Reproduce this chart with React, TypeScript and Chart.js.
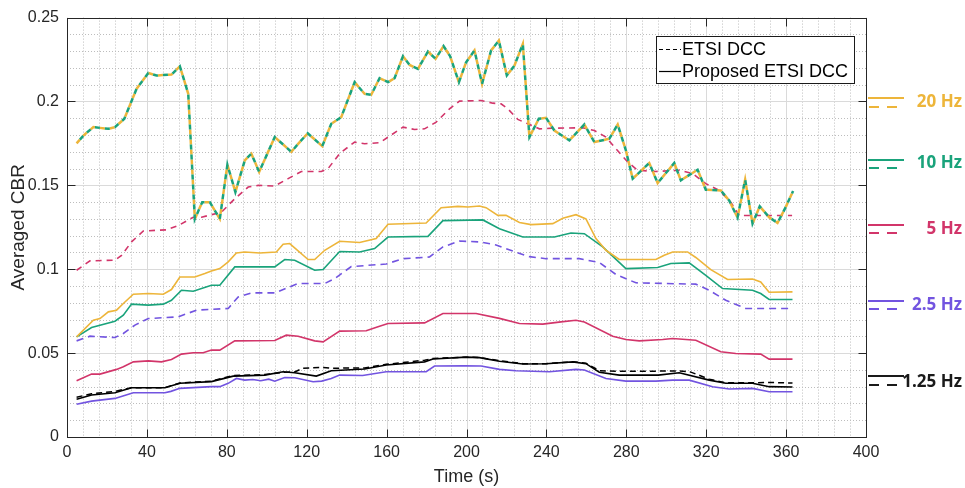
import React, { useEffect, useRef } from "react";
import { Chart, registerables } from "chart.js";

Chart.register(...registerables);

// ---------- axis ----------
const xTicks = [0, 40, 80, 120, 160, 200, 240, 280, 320, 360, 400];
const yTicks = [0, 0.05, 0.1, 0.15, 0.2, 0.25];
const xTitle = "Time (s)";
const yTitle = "Averaged CBR";
const legendLabels = ["ETSI DCC", "Proposed ETSI DCC"];
const freqLabels = ["20 Hz", "10 Hz", "5 Hz", "2.5 Hz", "1.25 Hz"];
const freqColors = ["#EDB53A", "#1AA37B", "#D2356A", "#7254E0", "#1a1a1a"];

// ---------- ETSI DCC at 20 Hz and 10 Hz (overlapping) ----------
const tEtsiHigh = [4.8, 8.5, 13.2, 20.7, 24, 28.7, 34.8, 40.7, 44.8, 52.3, 56.5, 60.7, 64, 67.7, 71.5, 76.5, 80.3, 84.3, 89, 92.3, 96.2, 104, 112.3, 116.5, 120.5, 127.8, 132.3, 137.3, 144, 149, 152.3, 156.5, 160.7, 164, 168.2, 171.5, 175.7, 180.7, 184.5, 188.5, 191.8, 196.2, 199.8, 204, 207.8, 212.3, 216.2, 220.2, 224, 228.2, 231.5, 236.2, 239.8, 244, 251.5, 259, 264, 271.5, 275.7, 279.8, 283.2, 291.5, 295.7, 304, 307.3, 315.7, 319.8, 327.3, 331.5, 335.7, 339.5, 343.2, 346.8, 351.5, 355.7, 359.8, 363.5];
const etsi20 = [0.175, 0.18, 0.1847, 0.1837, 0.1847, 0.1897, 0.2075, 0.217, 0.2155, 0.216, 0.221, 0.2046, 0.13, 0.14, 0.14, 0.13, 0.1623, 0.146, 0.1649, 0.1689, 0.158, 0.1788, 0.17, 0.1758, 0.181, 0.1734, 0.1867, 0.1907, 0.2115, 0.2045, 0.204, 0.2139, 0.2115, 0.2139, 0.227, 0.2218, 0.2194, 0.2298, 0.2254, 0.233, 0.227, 0.2115, 0.2234, 0.2304, 0.2105, 0.2304, 0.2363, 0.2155, 0.2214, 0.2343, 0.1788, 0.1897, 0.1903, 0.1827, 0.1768, 0.1863, 0.1758, 0.1778, 0.1863, 0.1708, 0.154, 0.1633, 0.1514, 0.1633, 0.153, 0.1593, 0.1474, 0.147, 0.141, 0.1308, 0.1534, 0.1272, 0.1375, 0.131, 0.1276, 0.137, 0.1466];
const etsi10 = [0.175, 0.18, 0.1847, 0.1837, 0.1847, 0.1897, 0.2075, 0.217, 0.2155, 0.216, 0.221, 0.2046, 0.13, 0.14, 0.14, 0.13, 0.1623, 0.146, 0.1649, 0.1689, 0.158, 0.1788, 0.17, 0.1758, 0.181, 0.1734, 0.1867, 0.1907, 0.2115, 0.2045, 0.204, 0.2139, 0.2115, 0.2139, 0.227, 0.2218, 0.2194, 0.2298, 0.2254, 0.233, 0.227, 0.2115, 0.2234, 0.2304, 0.2105, 0.2304, 0.2363, 0.2155, 0.2214, 0.2343, 0.1788, 0.1897, 0.1903, 0.1827, 0.1768, 0.1863, 0.1758, 0.1778, 0.1863, 0.1708, 0.154, 0.1633, 0.1514, 0.1633, 0.153, 0.1593, 0.1474, 0.147, 0.141, 0.1308, 0.1534, 0.1272, 0.1375, 0.131, 0.1276, 0.137, 0.1466];

// ---------- ETSI DCC 5 Hz ----------
const tEtsi5 = [4.8, 11.5, 24, 27.3, 32.3, 38.2, 49.8, 55.7, 63.2, 67.3, 77.3, 84, 90.7, 95.7, 104, 110.7, 117.3, 127.3, 130.7, 136.5, 144, 149, 156.5, 162.3, 168.2, 174, 179, 184.8, 191.5, 196.5, 207.3, 213.2, 217.3, 220.7, 225.7, 230.7, 236.5, 243.2, 258.2, 264, 269.8, 274.8, 280.7, 285.7, 294.8, 306.5, 313.2, 319.8, 326.5, 332.3, 336.5, 363];
const etsi5 = [0.0994, 0.105, 0.1054, 0.1083, 0.1163, 0.1228, 0.1235, 0.126, 0.131, 0.131, 0.134, 0.142, 0.149, 0.15, 0.1496, 0.154, 0.1583, 0.1583, 0.16, 0.169, 0.1758, 0.1748, 0.1754, 0.18, 0.1847, 0.1833, 0.1837, 0.1877, 0.1956, 0.2002, 0.2006, 0.199, 0.1986, 0.1956, 0.1893, 0.1867, 0.1837, 0.1841, 0.1843, 0.1827, 0.1788, 0.1718, 0.1639, 0.159, 0.1583, 0.159, 0.157, 0.151, 0.147, 0.14, 0.132, 0.132];

// ---------- Proposed 20 Hz ----------
const tProp20 = [4.8, 13.2, 16.5, 20.7, 24.8, 28.2, 33.2, 40.7, 48.2, 52.3, 56.5, 64, 69, 72.3, 76.5, 80.7, 84.8, 89, 96.5, 104.8, 108.2, 111.5, 120.7, 124, 129, 136.5, 146.5, 154.8, 160.7, 179.8, 187.3, 195.7, 200.7, 206.5, 209.8, 215.7, 219.8, 226.5, 232.3, 243.2, 248.2, 254.8, 259.8, 264.8, 269.8, 276.5, 294.8, 299, 303.2, 310.7, 314.8, 322.3, 330.7, 343.2, 347.3, 351.5, 363.2];
const prop20 = [0.0597, 0.0696, 0.0706, 0.0746, 0.0756, 0.0796, 0.0851, 0.0855, 0.0851, 0.0879, 0.0954, 0.0954, 0.0974, 0.099, 0.1004, 0.1044, 0.1097, 0.1103, 0.1097, 0.1103, 0.1149, 0.1153, 0.1058, 0.1058, 0.1113, 0.1167, 0.1159, 0.1183, 0.1268, 0.1276, 0.1367, 0.1375, 0.1371, 0.1377, 0.1367, 0.1321, 0.1321, 0.1279, 0.1266, 0.1272, 0.1304, 0.1325, 0.13, 0.1183, 0.1113, 0.1058, 0.1058, 0.1083, 0.1103, 0.1103, 0.107, 0.0998, 0.0939, 0.0942, 0.0924, 0.0863, 0.0865];

// ---------- Proposed 10 Hz ----------
const tProp10 = [4.8, 12.3, 24, 28.2, 32.3, 40.7, 48.2, 52.3, 57.3, 63.2, 72.3, 76.5, 84, 104, 109, 114, 124, 128.2, 136.5, 146.5, 154, 160.7, 180.7, 188.2, 208.2, 216.5, 228.2, 244, 252.3, 259, 268.2, 279.8, 295.7, 302.3, 311.5, 319.8, 328.2, 343.2, 347.3, 351.5, 363.2];
const prop10 = [0.0597, 0.0653, 0.069, 0.0726, 0.0792, 0.0786, 0.0792, 0.0815, 0.0875, 0.0869, 0.0905, 0.0905, 0.1014, 0.1014, 0.1058, 0.1054, 0.0994, 0.0998, 0.1106, 0.1103, 0.1123, 0.1192, 0.1196, 0.129, 0.1294, 0.1242, 0.1192, 0.1192, 0.1216, 0.1212, 0.1133, 0.1004, 0.101, 0.1034, 0.1038, 0.0964, 0.0885, 0.0875, 0.0855, 0.082, 0.082];

// ---------- ETSI DCC 2.5 Hz ----------
const tEtsi25 = [4.8, 11.5, 24, 28.2, 34, 40.7, 55.7, 64.8, 80.7, 85.7, 92.3, 104, 115.7, 129, 134, 142.3, 159.8, 168.2, 181.5, 188.2, 196.5, 206.5, 214.8, 223.2, 231.5, 239.8, 256.5, 266.5, 274.8, 284.8, 314.8, 321.5, 329.8, 339.8, 363.2];
const etsi25 = [0.0573, 0.0601, 0.0593, 0.0617, 0.0667, 0.0706, 0.0716, 0.0756, 0.0766, 0.0835, 0.0859, 0.0859, 0.0915, 0.0915, 0.0944, 0.1016, 0.1031, 0.1063, 0.1073, 0.1133, 0.1168, 0.1163, 0.1145, 0.1108, 0.1075, 0.1063, 0.1063, 0.104, 0.0969, 0.0919, 0.0911, 0.0875, 0.0815, 0.0766, 0.0766];

// ---------- Proposed 5 Hz ----------
const tProp5 = [4.8, 12.3, 16.5, 24.8, 28.2, 33.2, 40.7, 47.3, 52.3, 57.3, 63.2, 68.2, 72.3, 76.5, 84, 104, 109.8, 115.7, 124, 128.2, 136.5, 149.8, 155.7, 160.7, 179, 188.2, 204.8, 216.5, 226.5, 238.2, 247.3, 254.8, 259, 273.2, 279.8, 286.5, 298.2, 303.2, 314.8, 327.3, 334.8, 347.3, 351.5, 363.2];
const prop5 = [0.0335, 0.0375, 0.0375, 0.0403, 0.0419, 0.0448, 0.0454, 0.0448, 0.0462, 0.0494, 0.0502, 0.0502, 0.0518, 0.0518, 0.0573, 0.0575, 0.0607, 0.0601, 0.0573, 0.0567, 0.0631, 0.0633, 0.0657, 0.0677, 0.068, 0.0736, 0.0736, 0.0707, 0.0677, 0.0673, 0.0686, 0.0696, 0.0686, 0.0601, 0.0581, 0.0573, 0.0581, 0.0587, 0.0577, 0.0508, 0.0498, 0.0494, 0.0464, 0.0464];

// ---------- 1.25 Hz ----------
const tEtsi125 = [4.8, 12.3, 24, 32.3, 49, 56.5, 72.3, 83.2, 99, 108.2, 114, 118, 128, 132.3, 149, 159.8, 179, 183.2, 199.8, 206.5, 216.5, 228.2, 239.8, 253.2, 259.8, 266.5, 276.5, 306.5, 312, 321.5, 329.8, 343.2, 351.5, 363.2];
const etsi125 = [0.0237, 0.0258, 0.0272, 0.0294, 0.0294, 0.0322, 0.0333, 0.0367, 0.0372, 0.0385, 0.0388, 0.041, 0.0415, 0.041, 0.0412, 0.0433, 0.0458, 0.0468, 0.0476, 0.0474, 0.0455, 0.0437, 0.0437, 0.0448, 0.044, 0.0395, 0.0392, 0.0393, 0.0388, 0.0345, 0.0323, 0.0323, 0.0325, 0.0322];
const tProp125 = [4.8, 12.3, 24, 32.3, 49, 56.5, 72.3, 83.2, 99, 108.2, 114, 124.8, 132.3, 149, 159.8, 179, 183.2, 199.8, 206.5, 216.5, 228.2, 239.8, 253.2, 259.8, 266.5, 276.5, 296, 306.5, 321.5, 329.8, 343.2, 351.5, 363.2];
const prop125 = [0.0225, 0.025, 0.0264, 0.0294, 0.0294, 0.032, 0.033, 0.0363, 0.0369, 0.0389, 0.0383, 0.0363, 0.0395, 0.0405, 0.0429, 0.0448, 0.0465, 0.0476, 0.0473, 0.0452, 0.0435, 0.0437, 0.0448, 0.0437, 0.0386, 0.0369, 0.0369, 0.0383, 0.0339, 0.032, 0.032, 0.03, 0.0298];

// ---------- Proposed 2.5 Hz ----------
const tProp25 = [4.8, 12.3, 16.5, 24, 28, 33.2, 49, 52, 56.5, 72.3, 76.5, 80.7, 84.8, 89, 93, 97, 101, 104, 109, 114, 123.2, 127.5, 132.3, 136.5, 148, 159.8, 179.8, 184, 199, 207.3, 216.5, 224.8, 241.5, 254.8, 259, 269.8, 279.8, 294.8, 303.2, 311.5, 323.2, 331.5, 343.2, 351.5, 363.2];
const prop25 = [0.0195, 0.0214, 0.022, 0.023, 0.0245, 0.0264, 0.0264, 0.0272, 0.029, 0.03, 0.03, 0.032, 0.0349, 0.0339, 0.0343, 0.0335, 0.0345, 0.0333, 0.0355, 0.0353, 0.0329, 0.0333, 0.0349, 0.0369, 0.0367, 0.0389, 0.0389, 0.0423, 0.0424, 0.0423, 0.0403, 0.0395, 0.0389, 0.0403, 0.0399, 0.0349, 0.0333, 0.0333, 0.0339, 0.0339, 0.03, 0.0286, 0.029, 0.027, 0.027];

const FONT = "'Liberation Sans', Arial, Helvetica, sans-serif";
const TXT = "#262626";

function pts(t: number[], v: number[]) {
  return t.map((x, i) => ({ x, y: v[i] }));
}

const decorPlugin = {
  id: "decor",
  beforeDatasetsDraw(chart: any) {
    const { ctx, chartArea: a, scales } = chart;
    const xs = scales.x;
    const ys = scales.y;
    const vline = (px: number) => {
      ctx.beginPath();
      ctx.moveTo(px, a.top);
      ctx.lineTo(px, a.bottom);
      ctx.stroke();
    };
    const hline = (py: number) => {
      ctx.beginPath();
      ctx.moveTo(a.left, py);
      ctx.lineTo(a.right, py);
      ctx.stroke();
    };
    ctx.save();
    ctx.lineWidth = 1;
    // minor dotted grid
    ctx.strokeStyle = "#bdbdbd";
    ctx.setLineDash([1, 2]);
    for (let k = 0; k <= 50; k++) {
      if (k % 5 === 0) continue;
      vline(Math.round(xs.getPixelForValue(k * 8)) + 0.5);
    }
    for (let k = 0; k <= 25; k++) {
      if (k % 5 === 0) continue;
      hline(Math.round(ys.getPixelForValue(k / 100)) + 0.5);
    }
    // major grid
    ctx.setLineDash([]);
    ctx.strokeStyle = "#dadada";
    xTicks.forEach((t) => vline(Math.round(xs.getPixelForValue(t)) + 0.5));
    yTicks.forEach((v) => hline(Math.round(ys.getPixelForValue(v)) + 0.5));
    ctx.restore();
  },
  afterDraw(chart: any) {
    const { ctx, chartArea: a, scales } = chart;
    const xs = scales.x;
    const ys = scales.y;
    ctx.save();
    // box + inner ticks
    ctx.strokeStyle = TXT;
    ctx.lineWidth = 1;
    ctx.setLineDash([]);
    const L = Math.round(a.left) + 0.5;
    const R = Math.round(a.right) + 0.5;
    const T = Math.round(a.top) + 0.5;
    const B = Math.round(a.bottom) + 0.5;
    ctx.strokeRect(L, T, R - L, B - T);
    const tl = 8;
    ctx.beginPath();
    xTicks.forEach((t) => {
      const px = Math.round(xs.getPixelForValue(t)) + 0.5;
      ctx.moveTo(px, B);
      ctx.lineTo(px, B - tl);
      ctx.moveTo(px, T);
      ctx.lineTo(px, T + tl);
    });
    yTicks.forEach((v) => {
      const py = Math.round(ys.getPixelForValue(v)) + 0.5;
      ctx.moveTo(L, py);
      ctx.lineTo(L + tl, py);
      ctx.moveTo(R, py);
      ctx.lineTo(R - tl, py);
    });
    ctx.stroke();

    // legend box
    ctx.fillStyle = "#fff";
    ctx.fillRect(656.5, 36.5, 198, 47);
    ctx.strokeStyle = "#1a1a1a";
    ctx.strokeRect(656.5, 36.5, 198, 47);
    ctx.lineWidth = 1.2;
    ctx.strokeStyle = "#000";
    ctx.setLineDash([4, 3]);
    ctx.beginPath();
    ctx.moveTo(659, 49.5);
    ctx.lineTo(681, 49.5);
    ctx.stroke();
    ctx.setLineDash([]);
    ctx.beginPath();
    ctx.moveTo(659, 71.5);
    ctx.lineTo(681, 71.5);
    ctx.stroke();
    ctx.fillStyle = "#000";
    ctx.font = `18px ${FONT}`;
    ctx.textAlign = "left";
    ctx.textBaseline = "middle";
    ctx.fillText(legendLabels[0], 682, 50);
    ctx.fillText(legendLabels[1], 682, 72);

    // right-hand frequency labels
    const rows = [
      { s: 98, d: 107, ty: 102 },
      { s: 160, d: 168, ty: 163 },
      { s: 225, d: 233, ty: 229 },
      { s: 301, d: 309, ty: 305 },
      { s: 376, d: 385, ty: 382 },
    ];
    ctx.lineWidth = 2;
    ctx.font = `bold 17px 'Open Sans', 'Noto Sans', sans-serif`;
    ctx.textAlign = "right";
    rows.forEach((r, i) => {
      ctx.strokeStyle = freqColors[i];
      ctx.setLineDash([]);
      ctx.beginPath();
      ctx.moveTo(868, r.s);
      ctx.lineTo(904, r.s);
      ctx.stroke();
      ctx.setLineDash([10, 8]);
      ctx.beginPath();
      ctx.moveTo(869, r.d);
      ctx.lineTo(898, r.d);
      ctx.stroke();
      ctx.fillStyle = freqColors[i];
      ctx.fillText(freqLabels[i], 962, r.ty);
    });
    ctx.restore();
  },
};

export default function App() {
  const ref = useRef<HTMLCanvasElement | null>(null);
  useEffect(() => {
    if (!ref.current) return;
    const dashedTop = { borderWidth: 2.5, borderDash: [5, 5], pointRadius: 0, tension: 0, fill: false };
    const chart = new Chart(ref.current, {
      type: "line",
      data: {
        datasets: [
          { label: "10 Hz ETSI DCC", data: pts(tEtsiHigh, etsi10), borderColor: freqColors[1], ...dashedTop, borderDashOffset: 5 },
          { label: "20 Hz ETSI DCC", data: pts(tEtsiHigh, etsi20), borderColor: freqColors[0], ...dashedTop },
          { label: "5 Hz ETSI DCC", data: pts(tEtsi5, etsi5), borderColor: freqColors[2], borderWidth: 1.6, borderDash: [6, 5], pointRadius: 0 },
          { label: "20 Hz Proposed", data: pts(tProp20, prop20), borderColor: freqColors[0], borderWidth: 1.6, pointRadius: 0 },
          { label: "10 Hz Proposed", data: pts(tProp10, prop10), borderColor: freqColors[1], borderWidth: 1.6, pointRadius: 0 },
          { label: "2.5 Hz ETSI DCC", data: pts(tEtsi25, etsi25), borderColor: freqColors[3], borderWidth: 1.6, borderDash: [7, 5], pointRadius: 0 },
          { label: "5 Hz Proposed", data: pts(tProp5, prop5), borderColor: freqColors[2], borderWidth: 1.6, pointRadius: 0 },
          { label: "1.25 Hz ETSI DCC", data: pts(tEtsi125, etsi125), borderColor: "#000", borderWidth: 1.5, borderDash: [6, 4], pointRadius: 0 },
          { label: "1.25 Hz Proposed", data: pts(tProp125, prop125), borderColor: "#000", borderWidth: 1.6, pointRadius: 0 },
          { label: "2.5 Hz Proposed", data: pts(tProp25, prop25), borderColor: freqColors[3], borderWidth: 1.6, pointRadius: 0 },
        ],
      },
      options: {
        responsive: false,
        animation: false,
        layout: { padding: { left: 0, right: 99, top: 17, bottom: 0 } },
        plugins: { legend: { display: false }, tooltip: { enabled: false } },
        elements: { line: { tension: 0 }, point: { radius: 0 } },
        scales: {
          x: {
            type: "linear",
            min: 0,
            max: 400,
            afterBuildTicks: (s: any) => {
              s.ticks = xTicks.map((v) => ({ value: v }));
            },
            ticks: { font: { family: FONT, size: 16 }, color: TXT, padding: 6, maxRotation: 0, autoSkip: false },
            grid: { display: false, drawTicks: false },
            border: { display: false },
            title: { display: true, text: xTitle, font: { family: FONT, size: 18 }, color: TXT, padding: { top: 0, bottom: 0 } },
            afterFit: (s: any) => {
              s.height = 51;
            },
          },
          y: {
            type: "linear",
            min: 0,
            max: 0.25,
            afterBuildTicks: (s: any) => {
              s.ticks = yTicks.map((v) => ({ value: v }));
            },
            ticks: {
              font: { family: FONT, size: 16 },
              color: TXT,
              padding: 8,
              callback: (v: any) => String(Number(Number(v).toFixed(2))),
            },
            grid: { display: false, drawTicks: false },
            border: { display: false },
            title: { display: true, text: yTitle, font: { family: FONT, size: 19 }, color: TXT, padding: { top: 7, bottom: 0 } },
            afterFit: (s: any) => {
              s.width = 67;
            },
          },
        },
      },
      plugins: [decorPlugin],
    } as any);
    return () => chart.destroy();
  }, []);
  return (
    <div style={{ position: "absolute", left: 0, top: 0, width: 965, height: 488, background: "#fff" }}>
      <canvas ref={ref} width={965} height={488} style={{ display: "block", width: 965, height: 488 }} />
    </div>
  );
}
